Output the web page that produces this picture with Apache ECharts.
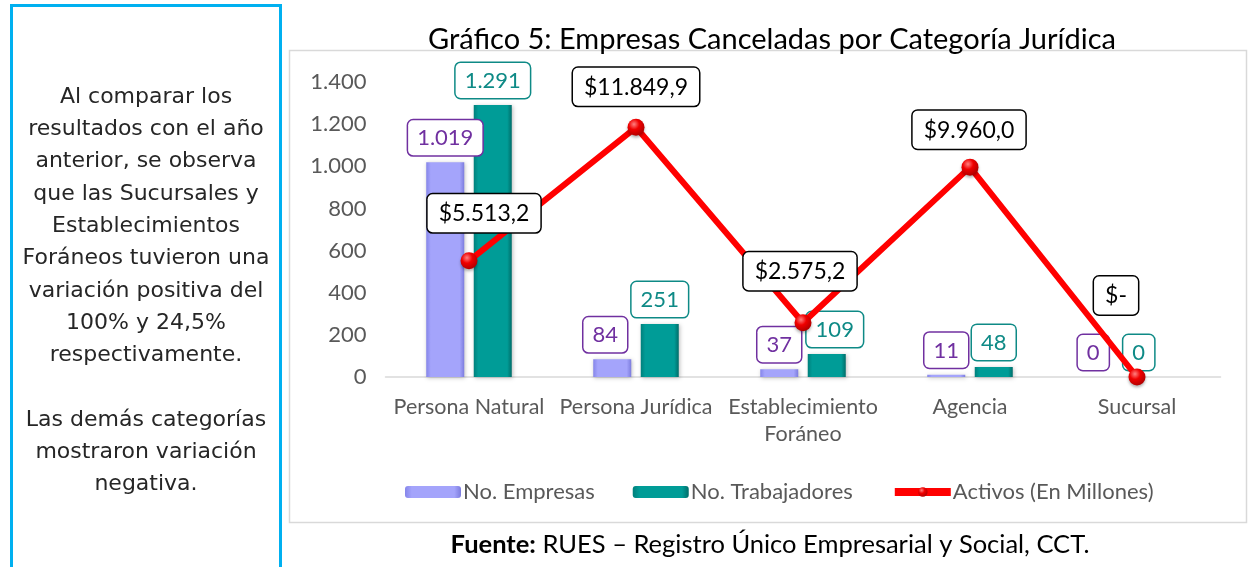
<!DOCTYPE html>
<html><head><meta charset="utf-8">
<script src="https://cdn.jsdelivr.net/npm/echarts@6/dist/echarts.min.js"></script>
<style>html,body{margin:0;padding:0;background:#fff}#c{width:1249px;height:567px}</style>
</head><body><div id="c"></div>
<script>
const categories = ['Persona Natural', 'Persona Jurídica', 'Establecimiento\nForáneo', 'Agencia', 'Sucursal'];
const empresas = [1019, 84, 37, 11, 0];
const trabajadores = [1291, 251, 109, 48, 0];
const activos = [5513.2, 11849.9, 2575.2, 9960.0, 0];
const yTicks = [0, 200, 400, 600, 800, 1000, 1200, 1400];
const seriesNames = ['No. Empresas', 'No. Trabajadores', 'Activos (En Millones)'];
const titleText = 'Gráfico 5: Empresas Canceladas por Categoría Jurídica';
const sideText = 'Al comparar los\nresultados con el año\nanterior, se observa\nque las Sucursales y\nEstablecimientos\nForáneos tuvieron una\nvariación positiva del\n100% y 24,5%\nrespectivamente.\n\nLas demás categorías\nmostraron variación\nnegativa.';

// label placement tweaks (style only)
const empLabelDx = [0, -7, 0, 0, -20];
const trabLabelDx = [0, 0, 8, 0, -22];
const actLabelOffset = [[15, -20], [0, -13], [-3, -24], [-1, -10], [-21, -54]];

const fmtNum = v => v.toLocaleString('de-DE');
const fmtMoney = v => v === 0 ? '$-' : '$' + v.toLocaleString('de-DE', {minimumFractionDigits: 1, maximumFractionDigits: 1});

const FONT = 'Lato';
const chart = echarts.init(document.getElementById('c'));

function barLabel(color) {
  return {
    show: true, position: 'top', distance: 7,
    color: color, fontFamily: FONT, fontSize: 22,
    backgroundColor: '#fff', borderColor: color, borderWidth: 1.5, borderRadius: 5,
    padding: [7, 9, 6, 9]
  };
}

const purple = '#7030A0', teal = '#0E8A86';

chart.setOption({
  animation: false,
  title: {
    text: titleText, left: 767, top: 20, textAlign: 'center',
    textStyle: {fontFamily: FONT, fontSize: 29, fontWeight: 'normal', color: '#000'}
  },
  legend: {
    left: 400, top: 476, itemWidth: 56, itemHeight: 12, itemGap: 38,
    textStyle: {fontFamily: FONT, fontSize: 22, color: '#595959', padding: [0, 0, 0, -3]},
    data: [
      {name: seriesNames[0]},
      {name: seriesNames[1]},
      {name: seriesNames[2], lineStyle: {width: 8}}
    ]
  },
  grid: {left: 385.5, right: 28.5, top: 82, bottom: 190},
  xAxis: {
    type: 'category', data: categories,
    axisLine: {lineStyle: {color: '#d9d9d9', width: 1.5}},
    axisTick: {show: false},
    axisLabel: {color: '#595959', fontFamily: FONT, fontSize: 21.5, lineHeight: 27, margin: 17, interval: 0}
  },
  yAxis: [{
    type: 'value', min: yTicks[0], max: yTicks[yTicks.length - 1], interval: 200,
    axisLine: {show: false}, axisTick: {show: false}, splitLine: {show: false},
    axisLabel: {color: '#595959', fontFamily: FONT, fontSize: 22, margin: 19, formatter: v => fmtNum(v)}
  }, {
    type: 'value', min: 0, max: 14000, show: false, splitLine: {show: false}
  }],
  series: [{
    name: seriesNames[0], type: 'bar', barWidth: 38, barGap: '25%',
    itemStyle: {
      color: {type: 'linear', x: 0, y: 0, x2: 1, y2: 0, colorStops: [
        {offset: 0, color: '#8585ea'}, {offset: 0.12, color: '#a4a4fb'},
        {offset: 0.88, color: '#a4a4fb'}, {offset: 1, color: '#7c7cde'}]},
      shadowColor: 'rgba(0,0,0,0.25)', shadowBlur: 4, shadowOffsetX: 1, shadowOffsetY: 1
    },
    data: empresas.map((v, i) => ({value: v, label: Object.assign(barLabel(purple), {offset: [empLabelDx[i], 0]})})),
    label: {formatter: p => fmtNum(p.value)}
  }, {
    name: seriesNames[1], type: 'bar', barWidth: 38,
    itemStyle: {
      color: {type: 'linear', x: 0, y: 0, x2: 1, y2: 0, colorStops: [
        {offset: 0, color: '#00807c'}, {offset: 0.12, color: '#009c97'},
        {offset: 0.88, color: '#009c97'}, {offset: 1, color: '#006d69'}]},
      shadowColor: 'rgba(0,0,0,0.25)', shadowBlur: 4, shadowOffsetX: 1, shadowOffsetY: 1
    },
    data: trabajadores.map((v, i) => ({value: v, label: Object.assign(barLabel(teal), {offset: [trabLabelDx[i], 0]})})),
    label: {formatter: p => fmtNum(p.value)}
  }, {
    name: seriesNames[2], type: 'line', yAxisIndex: 1, z: 5,
    symbol: 'circle', symbolSize: 17,
    lineStyle: {color: '#FF0000', width: 6},
    itemStyle: {
      color: {type: 'radial', x: 0.38, y: 0.32, r: 0.7, colorStops: [
        {offset: 0, color: '#ff8080'}, {offset: 0.45, color: '#f00000'}, {offset: 1, color: '#b00000'}]},
      shadowColor: 'rgba(0,0,0,0.3)', shadowBlur: 3, shadowOffsetY: 2
    },
    data: activos.map((v, i) => ({
      value: v,
      label: {
        show: true, position: 'top', distance: 0, offset: actLabelOffset[i],
        formatter: () => fmtMoney(v),
        color: '#000', fontFamily: FONT, fontSize: 23,
        backgroundColor: '#fff', borderColor: '#000', borderWidth: 1.5, borderRadius: 5,
        padding: [8, 11, 7, 11]
      }
    }))
  }],
  graphic: [
    {type: 'rect', shape: {x: 11.5, y: 5.5, width: 269, height: 600}, style: {fill: '#fff', stroke: '#00B0F0', lineWidth: 3}, z: -1},
    {type: 'text', x: 146, y: 81, style: {text: sideText, fill: '#262626', fontFamily: 'DejaVu Sans', fontSize: 22, lineHeight: 32.3, align: 'center', verticalAlign: 'top'}},
    {type: 'rect', shape: {x: 289.5, y: 50.5, width: 957, height: 472}, style: {fill: 'none', stroke: '#d9d9d9', lineWidth: 1.5}, z: -1},
    {type: 'text', x: 770, y: 545, style: {
      text: '{b|Fuente:} RUES – Registro Único Empresarial y Social, CCT.',
      align: 'center', verticalAlign: 'middle', fill: '#000', fontFamily: FONT, fontSize: 25.5,
      rich: {b: {fontWeight: 'bold', fontFamily: FONT, fontSize: 25.5, fill: '#000'}}
    }}
  ]
});
</script></body></html>
